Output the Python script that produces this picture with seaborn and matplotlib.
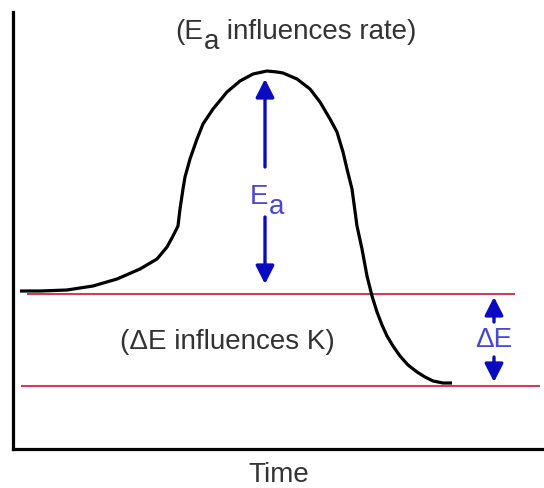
import matplotlib
matplotlib.use("Agg")
import matplotlib.pyplot as plt
import seaborn as sns
import pandas as pd

# reaction coordinate (time) and energy of the profile, schematic units
time = [7, 27, 54, 80, 104, 127, 144, 154, 160, 165, 167, 170, 172, 177, 184,
        190, 200, 214, 227, 240, 254, 264, 270, 284, 297, 307, 317, 324, 330,
        334, 339, 344, 349, 354, 359, 364, 369, 374, 380, 387, 395, 404, 412,
        420, 430, 439]
energy = [158, 158, 159, 163, 170, 180, 190, 202, 213, 223, 240, 260, 272, 290,
          310, 325, 340, 357, 368, 375, 378, 377, 376, 370, 360, 347, 330, 317,
          297, 280, 260, 223, 200, 173, 153, 137, 124, 113, 103, 93, 84, 77, 72,
          68, 66, 66]

reactant_level = 155
product_level = 63
peak_energy = 370
reactant_span = (14, 502)
product_span = (8, 527)

ea_x = 252
de_x = 481

sns.set_style("white")
plt.rcParams["font.family"] = ["Liberation Sans", "DejaVu Sans"]

FS = 20
grey = "#333333"
red = "#d23c5a"
arrow_blue = "#0a0ac0"
text_blue = "#4848d0"

fig = plt.figure(figsize=(5.44, 4.89), dpi=100)
ax = fig.add_axes([13 / 544, 39 / 489, 531 / 544, 437 / 489])

df = pd.DataFrame({"time": time, "energy": energy})
sns.lineplot(data=df, x="time", y="energy", sort=False, estimator=None,
             color="black", lw=2.3, ax=ax, zorder=3,
             solid_joinstyle="round", solid_capstyle="butt")

ax.hlines(reactant_level, *reactant_span, color=red, lw=1.5, zorder=2)
ax.hlines(product_level, *product_span, color=red, lw=1.5, zorder=2)


def sub_label(x, y, main, sub, rest, color):
    # main text ends at x (right aligned); subscript dropped a few pixels
    t1 = ax.text(x, y, main, color=color, fontsize=FS, ha="right", va="bottom")
    t2 = ax.annotate(sub, xy=(1, 0), xycoords=t1, xytext=(1, -10),
                     textcoords="offset pixels", color=color, fontsize=FS,
                     ha="left", va="bottom")
    if rest:
        ax.annotate(rest, xy=(1, 0), xycoords=(t2, t1), color=color,
                    fontsize=FS, ha="left", va="bottom")


aprops = dict(arrowstyle="-|>,head_length=0.55,head_width=0.28",
              color=arrow_blue, lw=2.4, shrinkA=0, shrinkB=0, mutation_scale=20)

# Ea arrows
ea_mid = 253
ax.annotate("", xy=(ea_x, peak_energy), xytext=(ea_x, ea_mid + 29), arrowprops=aprops)
ax.annotate("", xy=(ea_x, reactant_level + 10), xytext=(ea_x, ea_mid - 21), arrowprops=aprops)
sub_label(255, 240, "E", "a", "", text_blue)

# delta E arrows
de_mid = 110
ax.annotate("", xy=(de_x, reactant_level - 3), xytext=(de_x, de_mid + 17), arrowprops=aprops)
ax.annotate("", xy=(de_x, product_level + 4), xytext=(de_x, de_mid - 18), arrowprops=aprops)
ax.text(de_x, de_mid, "\u0394E", color=text_blue, fontsize=FS,
        ha="center", va="center")

sub_label(190, 405, "(E", "a", " influences rate)", grey)
ax.text(214, 108, "(\u0394E influences K)", color=grey, fontsize=FS,
        ha="center", va="center")

ax.set_xlim(0, 531)
ax.set_ylim(0, 437)
ax.set_xticks([])
ax.set_yticks([])
ax.set_xlabel("Time", fontsize=FS, color=grey, labelpad=9)
ax.set_ylabel("")

for side in ["top", "right"]:
    ax.spines[side].set_visible(False)
for side in ["left", "bottom"]:
    ax.spines[side].set_linewidth(2.3)
    ax.spines[side].set_color("black")

fig.savefig("out.png", dpi=100)
